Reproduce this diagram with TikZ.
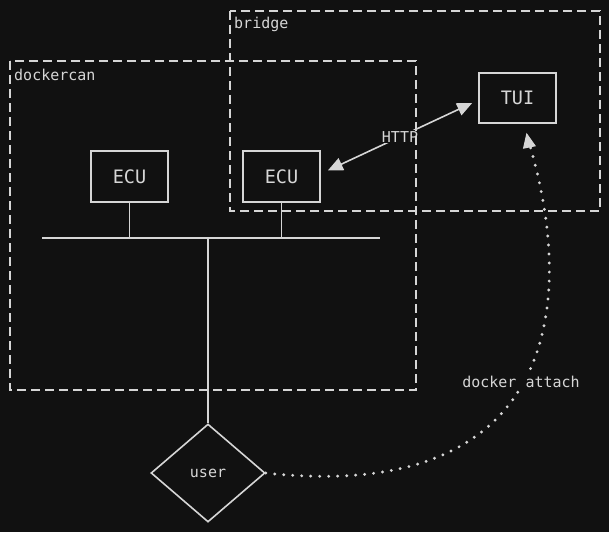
\documentclass[tikz,border=0pt]{standalone}
\usepackage{fontspec}
\setmainfont{DejaVu Sans Mono}
\usetikzlibrary{arrows.meta,shapes.geometric}
\definecolor{bg}{HTML}{111111}
\definecolor{fg}{HTML}{D6D6D6}
\begin{document}
\begin{tikzpicture}[x=1pt,y=-1pt,
  every node/.style={text=fg},
  boxnode/.style={draw=fg,line width=1.6pt,minimum width=77pt,minimum height=51pt,inner sep=0pt,font=\fontsize{18.5}{20}\selectfont},
  grouplabel/.style={anchor=west,inner sep=0pt,font=\fontsize{15}{17}\selectfont},
  groupbox/.style={draw=fg,line width=2pt,dash pattern=on 9pt off 5pt},
  wire/.style={draw=fg,line width=1.6pt},
  lbl/.style={fill=bg,inner sep=1pt,font=\fontsize{15}{17}\selectfont}]
\fill[bg] (0,0) rectangle (609,532);
\useasboundingbox (0,0) rectangle (609,532);
% nodes
\node[boxnode] (e1) at (129.5,176.5) {ECU};
\node[boxnode] (e2) at (281.5,176.5) {ECU};
\node[boxnode,minimum height=50pt] (tui) at (517.5,98) {TUI};
\node[draw=fg,line width=1.6pt,shape=diamond,minimum width=114pt,minimum height=98pt,inner sep=0pt,font=\fontsize{15}{17}\selectfont] (user) at (208,473) {user};
\coordinate (busL) at (42,238);
\coordinate (busR) at (380,238);
\coordinate (busM) at (208,238);
% bus
\draw[wire] (busL) -- (busR);
\draw[wire] (e1.south) -- (e1.south |- busL);
\draw[wire] (e2.south) -- (e2.south |- busL);
\draw[wire] (busM) -- (user.north);
% HTTP arrow
\draw[wire,{Triangle[length=15pt,width=13pt]}-{Triangle[length=15pt,width=13pt]}]
  ([shift={(7,-6)}]e2.east) -- node[lbl] (http) {HTTP} ([shift={(-6,5)}]tui.west);
% docker attach
\draw[fg,line width=3.2pt,line cap=round,dash pattern=on 0pt off 9pt]
  (user.east) .. controls (560,505) and (578,300) .. ([shift={(10,14)}]tui.south);
\draw[fg,-{Triangle[length=15pt,width=13pt]},line width=1pt,shorten <=0pt]
  ([shift={(10,14)}]tui.south) -- ([shift={(9,9)}]tui.south);
\node[lbl] (da) at (521,382) {docker attach};
% groups
\draw[groupbox] (230,11) rectangle (600,211);
\draw[groupbox] (10,61) rectangle (416,390);
\node[grouplabel] (bl) at (234,24) {bridge};
\node[grouplabel] (dl) at (14,75) {dockercan};
\end{tikzpicture}
\end{document}
